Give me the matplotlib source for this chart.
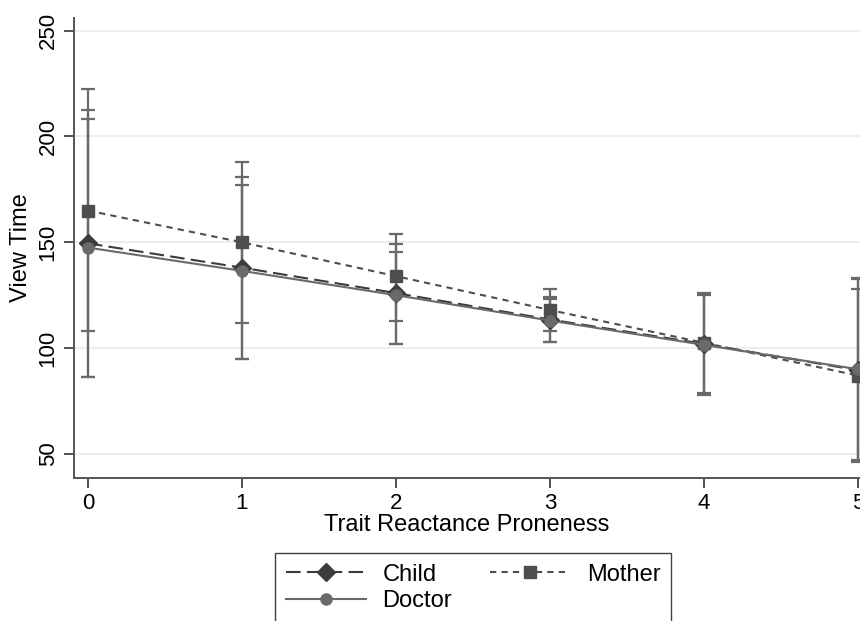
import matplotlib
matplotlib.use("Agg")
import matplotlib.pyplot as plt

plt.rcParams["font.family"] = ["Liberation Sans", "DejaVu Sans"]

x = [0, 1, 2, 3, 4, 5]

child = [149.5, 138, 126, 113.5, 102, 89.5]
child_lo = [86.5, 95, 102, 103, 78.5, 46.5]
child_hi = [212.5, 181, 149, 124, 125.5, 132.5]

mother = [165, 150, 134, 118, 102.5, 87]
mother_lo = [108, 112, 113, 108, 79, 46]
mother_hi = [222.5, 188, 154, 128, 126, 128]

doctor = [147.5, 136.5, 125, 113, 101.5, 90]
doctor_lo = [86.5, 95, 102, 103, 78, 47]
doctor_hi = [208.5, 177, 145.5, 123, 125, 133]

yticks = [50, 100, 150, 200, 250]

fig = plt.figure(figsize=(8.6, 6.21), dpi=100)
ax = fig.add_axes([74 / 860, 1 - 478 / 621, 1 - 74 / 860, (478 - 18) / 621])

series = [
    ("Child", child, child_lo, child_hi, "#3c3c3c", "D", 9, (0, (7, 3))),
    ("Mother", mother, mother_lo, mother_hi, "#4e4e4e", "s", 8.5, (0, (3, 2.5))),
    ("Doctor", doctor, doctor_lo, doctor_hi, "#6a6a6a", "o", 8, "-"),
]

# confidence interval caps first
for name, ys, lo, hi, col, mk, ms, ls in series:
    err = [[y - l for y, l in zip(ys, lo)], [h - y for y, h in zip(ys, hi)]]
    ax.errorbar(x, ys, yerr=err, fmt="none", ecolor="#6a6a6a", elinewidth=1.6,
                capsize=5, capthick=1.6, zorder=2)

handles = {}
for name, ys, lo, hi, col, mk, ms, ls in series:
    (h,) = ax.plot(x, ys, color=col, linestyle=ls, linewidth=1.5, marker=mk,
                   markersize=ms, markerfacecolor=col, markeredgecolor=col,
                   label=name, zorder=3)
    handles[name] = h

ax.set_xlim(-0.09, 5.013)
ax.set_ylim(38.6, 256)
ax.set_xticks(x)
ax.set_yticks(yticks)
ax.set_yticklabels([str(v) for v in yticks], rotation=90, va="center")
ax.tick_params(axis="both", direction="out", length=7, width=1.2,
               color="#333333", labelsize=16, pad=4)
ax.yaxis.grid(True, color="#eaeaea", linewidth=1.2)
ax.set_axisbelow(True)

for side in ["top", "right"]:
    ax.spines[side].set_visible(False)
for side in ["left", "bottom"]:
    ax.spines[side].set_color("#555555")
    ax.spines[side].set_linewidth(1.4)

ax.set_xlabel("Trait Reactance Proneness", fontsize=17, labelpad=0)
ax.set_ylabel("View Time", fontsize=17, labelpad=4)

# column-wise fill: Child / Doctor in col 1, Mother in col 2
order = ["Child", "Doctor", "Mother"]
leg = fig.legend(handles=[handles[k] for k in order], labels=order, ncol=2,
                 loc="upper left", bbox_to_anchor=(275 / 860, 1 - 553 / 621),
                 borderaxespad=0, fontsize=17, handlelength=3.4,
                 columnspacing=1.6, handletextpad=0.7, borderpad=0.45,
                 labelspacing=0.2, fancybox=False, framealpha=1)
leg.get_frame().set_edgecolor("#404040")
leg.get_frame().set_linewidth(1.0)

fig.savefig("out.png", dpi=100)
